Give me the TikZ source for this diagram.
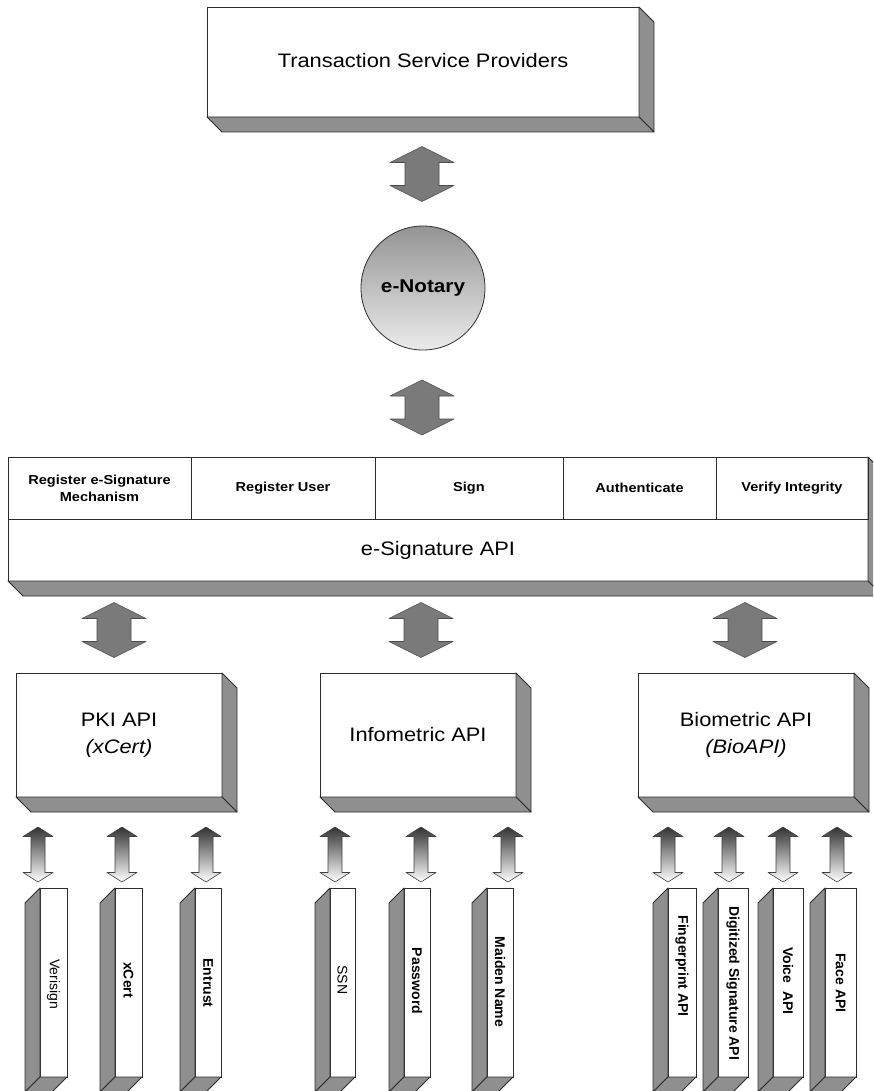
\documentclass[tikz,border=0pt]{standalone}
\usepackage{fontspec}
\setmainfont{Liberation Sans}[FakeStretch=1.12]
\newfontfamily\barfont{Liberation Sans}
\usetikzlibrary{calc}

\definecolor{edge}{gray}{0.18}
\definecolor{slab}{gray}{0.56}

\tikzset{
  box/.style={draw=edge, line width=0.9pt, fill=white, inner sep=0pt,
    outer sep=0pt, align=center},
  slabfill/.style={fill=slab, draw=edge, line width=0.9pt, line join=round},
  cell/.style={draw=edge, line width=0.9pt, inner sep=0pt, outer sep=0pt,
    align=center, font=\bfseries\fontsize{13}{17}\selectfont},
  bigtext/.style={font=\fontsize{19.5}{27}\selectfont, align=center},
  bar/.style={box, minimum height=189},
  barlabel/.style={rotate=-90, inner sep=0pt, font=\barfont\bfseries\fontsize{14}{16}\selectfont},
  barlabellight/.style={barlabel, font=\barfont\fontsize{14}{16}\selectfont},
  % thick two-headed block arrow between the main layers
  bigdbl/.pic={
    \path[left color=black!52, middle color=black!82, right color=black!52,
          draw=black!70, line width=0.6pt, line join=round]
      (0,-27.5) -- (32,-11.5) -- (17,-11.5) -- (17,11.5) -- (32,11.5)
      -- (0,27.5) -- (-32,11.5) -- (-17,11.5) -- (-17,-11.5) -- (-32,-11.5) -- cycle;
  },
  % slim two-headed arrow to the individual mechanisms
  smalldbl/.pic={
    \path[top color=black!80, bottom color=white,
          draw=black!75, line width=0.6pt, line join=round]
      (0,-27.5) -- (15,-18) -- (7,-18) -- (7,18) -- (15,18)
      -- (0,27.5) -- (-15,18) -- (-7,18) -- (-7,-18) -- (-15,-18) -- cycle;
  },
}

% shaded sides of a block, receding to the lower right
\newcommand\slabSE[2][15]{%
  \filldraw[slabfill] (#2.north east) -- ++(#1,#1) -- ($(#2.south east)+(#1,#1)$) -- (#2.south east) -- cycle;
  \filldraw[slabfill] (#2.south west) -- (#2.south east) -- ++(#1,#1) -- ($(#2.south west)+(#1,#1)$) -- cycle;
}
% shaded sides of a bar, receding to the lower left
\newcommand\slabSW[2][15]{%
  \filldraw[slabfill] (#2.north west) -- ++(-#1,#1) -- ($(#2.south west)+(-#1,#1)$) -- (#2.south west) -- cycle;
  \filldraw[slabfill] (#2.south west) -- (#2.south east) -- ++(-#1,#1) -- ($(#2.south west)+(-#1,#1)$) -- cycle;
}

\begin{document}
\begin{tikzpicture}[x=1pt, y=-1pt]
  \useasboundingbox (0,0) rectangle (873,1091);
  \clip (0,0) rectangle (873,1091);
  \fill[white] (0,0) rectangle (873,1091);

  % top layer
  \node[box, minimum width=432, minimum height=110] (tsp) at (423,62) {};
  \node[bigtext] (tsptext) at (423,61) {Transaction Service Providers};
  \slabSE{tsp}

  \pic (ar1) at (422,174) {bigdbl};

  % notary
  \node[circle, minimum size=124, draw=edge, line width=0.8pt,
        top color=black!42, bottom color=black!8,
        font=\bfseries\fontsize{18.5}{20}\selectfont] (notary) at (423,288) {e-Notary};

  \pic (ar2) at (422,407.5) {bigdbl};

  % e-Signature API with its operations
  \node[box, minimum width=860, minimum height=124] (esig) at (438,519) {};
  \slabSE{esig}
  \node[cell, minimum width=183, minimum height=62] (op1) at (99.5,488) {Register e-Signature\\Mechanism};
  \node[cell, minimum width=184, minimum height=62] (op2) at (283,488) {Register User};
  \node[cell, minimum width=188, minimum height=62] (op3) at (469,488) {Sign};
  \node[cell, minimum width=153, minimum height=62] (op4) at (639.5,488) {Authenticate};
  \node[cell, minimum width=152, minimum height=62] (op5) at (792,488) {Verify Integrity};
  \node[bigtext] (esigtext) at (438,550) {e-Signature API};

  \pic (ar3) at (114,630) {bigdbl};
  \pic (ar4) at (421,630) {bigdbl};
  \pic (ar5) at (745,630) {bigdbl};

  % the three API families
  \node[box, bigtext, minimum width=206, minimum height=124] (pki) at (119,735) {PKI API\\\textit{(xCert)}};
  \node[box, bigtext, minimum width=196, minimum height=124] (info) at (418,735) {Infometric API};
  \node[box, bigtext, minimum width=216, minimum height=124] (bio) at (746,735) {Biometric API\\\textit{(BioAPI)}};
  \slabSE{pki}
  \slabSE{info}
  \slabSE{bio}

  \foreach \x/\n in {38/s1, 122/s2, 206/s3, 335/s4, 421/s5, 508/s6, 668/s7, 729/s8, 783/s9, 837/s10}
    {\pic (\n) at (\x,854.5) {smalldbl};}

  % individual mechanisms
  \node[bar, minimum width=27] (verisign) at (53.5,982.5) {};
  \node[bar, minimum width=27] (xcert)    at (128.5,982.5) {};
  \node[bar, minimum width=26] (entrust)  at (208,982.5) {};
  \node[bar, minimum width=25] (ssn)      at (342.5,982.5) {};
  \node[bar, minimum width=26] (password) at (417,982.5) {};
  \node[bar, minimum width=26] (maiden)   at (500,982.5) {};
  \node[bar, minimum width=28] (finger)   at (682,982.5) {};
  \node[bar, minimum width=30] (digsig)   at (733,982.5) {};
  \node[bar, minimum width=30] (voice)    at (788,982.5) {};
  \node[bar, minimum width=31] (face)     at (840.5,982.5) {};
  \foreach \n in {verisign, xcert, entrust, ssn, password, maiden, finger, digsig, voice, face}
    {\slabSW{\n}}

  \node[barlabellight] (lverisign) at (53.5,984) {Verisign};
  \node[barlabel] (lxcert)    at (128.5,980) {xCert};
  \node[barlabel] (lentrust)  at (208,983) {Entrust};
  \node[barlabellight] (lssn) at (342.5,980) {SSN};
  \node[barlabel] (lpassword) at (417,981) {Password};
  \node[barlabel] (lmaiden)   at (500,982) {Maiden Name};
  \node[barlabel] (lfinger)   at (682,966) {Fingerprint API};
  \node[barlabel] (ldigsig)   at (733,983) {Digitized Signature API};
  \node[barlabel] (lvoice)    at (788,981) {Voice\hspace{4pt} API};
  \node[barlabel] (lface)     at (840.5,983) {Face API};
\end{tikzpicture}
\end{document}
